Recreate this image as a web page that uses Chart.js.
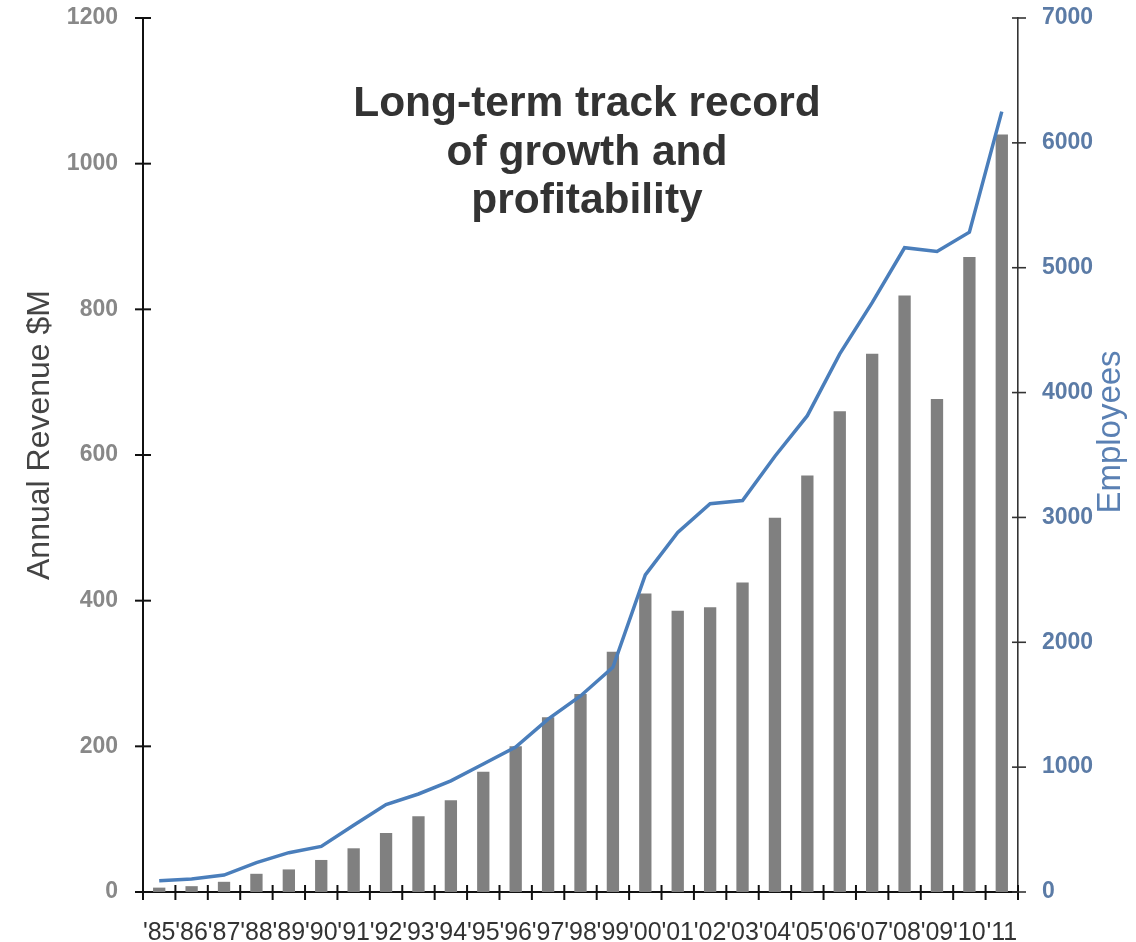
<!DOCTYPE html>
<html>
<head>
<meta charset="utf-8">
<script src="https://cdn.jsdelivr.net/npm/chart.js@4/dist/chart.umd.min.js"></script>
<style>
  html, body { margin: 0; padding: 0; background: #fff; }
  #wrap { width: 1136px; height: 942px; position: relative; }
</style>
</head>
<body>
<div id="wrap"><canvas id="growthChart"></canvas></div>
<script>
// values
const years = ["'85", "'86", "'87", "'88", "'89", "'90", "'91", "'92", "'93", "'94", "'95", "'96", "'97", "'98",
  "'99", "'00", "'01", "'02", "'03", "'04", "'05", "'06", "'07", "'08", "'09", "'10", "'11"];
const revenue = [6, 8, 14, 25, 31, 44, 60, 81, 104, 126, 165, 200, 240, 272, 330, 410, 386, 391, 425, 514, 572, 660, 739, 819, 677, 872, 1040];
const employees = [90, 104, 136, 235, 315, 365, 535, 700, 785, 890, 1025, 1160, 1385, 1570, 1800, 2540, 2880, 3110, 3135,
  3490, 3815, 4310, 4720, 5160, 5130, 5285, 6250];
const titleLines = ['Long-term track record', 'of growth and', 'profitability'];
const leftTitle = 'Annual Revenue $M';
const rightTitle = 'Employees';

const FONT = '"Liberation Sans", Arial, sans-serif';
const BLUE = '#4a7ebb';

// small tick marks crossing each axis line, plus the inner title and axis titles
const decorPlugin = {
  id: 'decor',
  afterDraw(chart) {
    const { ctx, chartArea, scales } = chart;
    const x = scales.x, y = scales.y, y1 = scales.y1;
    ctx.save();

    ctx.strokeStyle = '#111';
    ctx.lineWidth = 2;
    y.ticks.forEach((t, i) => {
      const py = y.getPixelForTick(i);
      ctx.beginPath(); ctx.moveTo(chartArea.left - 8, py); ctx.lineTo(chartArea.left + 8, py); ctx.stroke();
    });
    const half = (x.getPixelForValue(1) - x.getPixelForValue(0)) / 2;
    for (let i = 0; i <= years.length; i++) {
      const px = x.getPixelForValue(i) - half;
      ctx.beginPath(); ctx.moveTo(px, chartArea.bottom - 7); ctx.lineTo(px, chartArea.bottom + 8); ctx.stroke();
    }
    ctx.strokeStyle = '#333';
    ctx.lineWidth = 1.6;
    y1.ticks.forEach((t, i) => {
      const py = y1.getPixelForTick(i);
      ctx.beginPath(); ctx.moveTo(chartArea.right - 6, py); ctx.lineTo(chartArea.right + 8, py); ctx.stroke();
    });

    // title inside the plot
    ctx.fillStyle = '#333';
    ctx.font = 'bold 42.5px ' + FONT;
    ctx.textAlign = 'center';
    ctx.textBaseline = 'alphabetic';
    titleLines.forEach((line, i) => ctx.fillText(line, 587, 116 + i * 48.5));

    // axis titles, both read bottom to top
    ctx.textBaseline = 'middle';
    ctx.save();
    ctx.translate(40, 435);
    ctx.rotate(-Math.PI / 2);
    ctx.fillStyle = '#444';
    ctx.font = '32px ' + FONT;
    ctx.fillText(leftTitle, 0, 0);
    ctx.restore();

    ctx.save();
    ctx.translate(1111, 432);
    ctx.rotate(-Math.PI / 2);
    ctx.fillStyle = '#5a80b3';
    ctx.font = '33px ' + FONT;
    ctx.fillText(rightTitle, 0, 0);
    ctx.restore();

    ctx.restore();
  }
};

const plain = (value) => String(value);

const ctx = document.getElementById('growthChart').getContext('2d');
new Chart(ctx, {
  type: 'bar',
  data: {
    labels: years,
    datasets: [
      {
        type: 'line',
        label: 'Employees',
        data: employees,
        yAxisID: 'y1',
        order: 0,
        borderColor: BLUE,
        borderWidth: 3.5,
        pointRadius: 0,
        tension: 0,
        fill: false,
      },
      {
        label: 'Annual Revenue $M',
        data: revenue,
        yAxisID: 'y',
        order: 1,
        backgroundColor: '#808080',
        barPercentage: 0.38,
        categoryPercentage: 1,
      },
    ]
  },
  options: {
    responsive: true,
    maintainAspectRatio: false,
    animation: false,
    layout: { padding: { top: 18, left: 0, right: 0, bottom: 0 } },
    plugins: {
      legend: { display: false },
      tooltip: { enabled: false },
    },
    scales: {
      x: {
        offset: true,
        grid: { display: false, drawTicks: true, tickLength: 26 },
        border: { display: true, color: '#111', width: 2 },
        ticks: {
          autoSkip: false,
          maxRotation: 0,
          minRotation: 0,
          padding: 0,
          color: '#333',
          font: { family: FONT, size: 25 },
        },
        afterFit: (scale) => { scale.height = 50; },
      },
      y: {
        position: 'left',
        min: 0,
        max: 1200,
        ticks: {
          stepSize: 200,
          padding: 0,
          callback: plain,
          color: '#888',
          font: { family: FONT, size: 23, weight: 'bold' },
        },
        grid: { display: false, drawTicks: true, tickLength: 25 },
        border: { display: true, color: '#111', width: 2 },
        afterFit: (scale) => { scale.width = 143; },
      },
      y1: {
        position: 'right',
        min: 0,
        max: 7000,
        ticks: {
          stepSize: 1000,
          padding: 0,
          callback: plain,
          color: '#5b7ba6',
          font: { family: FONT, size: 23, weight: 'bold' },
        },
        grid: { display: false, drawTicks: true, tickLength: 24 },
        border: { display: true, color: '#333', width: 1.6 },
        afterFit: (scale) => { scale.width = 118; },
      },
    },
  },
  plugins: [decorPlugin],
});
</script>
</body>
</html>
